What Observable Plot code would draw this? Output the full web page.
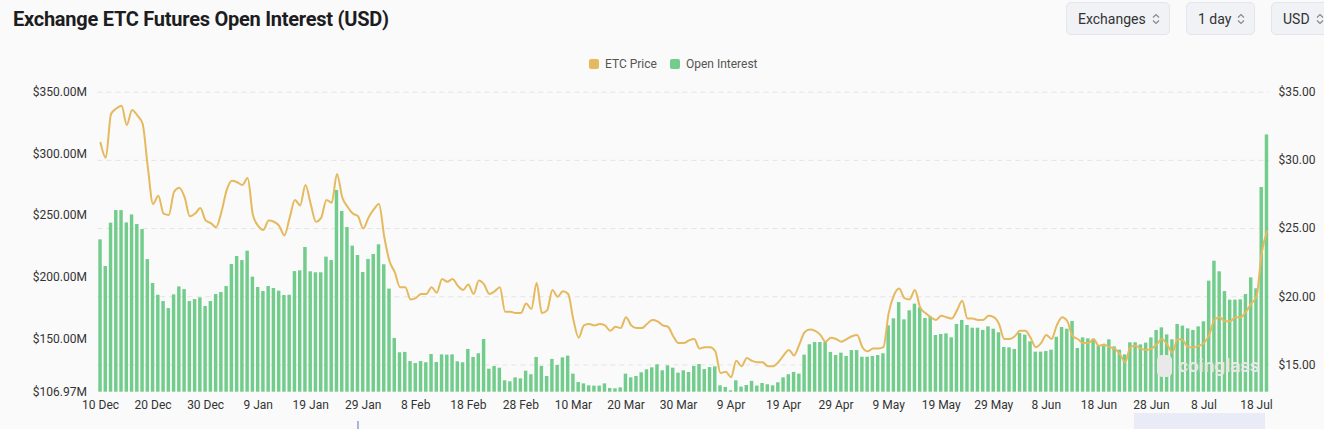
<!DOCTYPE html>
<html><head><meta charset="utf-8">
<script src="https://cdn.jsdelivr.net/npm/d3@7"></script>
<script src="https://cdn.jsdelivr.net/npm/@observablehq/plot@0.6"></script>
<style>
html,body{margin:0;padding:0;background:#fafafa;}
body{width:1324px;height:429px;position:relative;overflow:hidden;font-family:Roboto,"Noto Sans",sans-serif;}
#title{position:absolute;left:13px;top:7px;font-family:Roboto,sans-serif;font-weight:700;font-size:20px;letter-spacing:-0.25px;color:#1d1d1f;white-space:nowrap;}
.btn{position:absolute;top:2px;height:33px;box-sizing:border-box;border:1px solid #e3e5ea;background:#f0f2f5;border-radius:5px;font-size:14px;color:#333;display:flex;align-items:center;padding:0 0 0 11px;white-space:nowrap;}
.btn svg{margin-left:6px;}
#legend{position:absolute;top:57px;left:589px;display:flex;font-size:12px;color:#555;}
.li{display:flex;align-items:center;margin-right:13px;}
.sw{width:10px;height:10px;border-radius:2px;margin-right:6px;}
#chart{position:absolute;left:0;top:80px;}
#wm{position:absolute;left:1157px;top:354px;font:700 19px Roboto,sans-serif;color:#e8e8e8;display:flex;align-items:center;}
#wm .logo{width:15px;height:22px;border-radius:5px;background:#e9e9e9;margin-right:6px;}
#slider{position:absolute;left:1134px;top:413px;width:131px;height:16px;background:#e9ebf6;}
#handle{position:absolute;left:357px;top:421px;width:2px;height:8px;background:#a9b6df;}
</style></head>
<body>
<div id="title">Exchange ETC Futures Open Interest (USD)</div>
<div class="btn" style="left:1066px;width:104px">Exchanges<svg width="8" height="12" viewBox="0 0 8 12"><path d="M1 4.5L4 1.5L7 4.5M1 7.5L4 10.5L7 7.5" fill="none" stroke="#888" stroke-width="1.2"/></svg></div>
<div class="btn" style="left:1186px;width:69px">1 day<svg width="8" height="12" viewBox="0 0 8 12"><path d="M1 4.5L4 1.5L7 4.5M1 7.5L4 10.5L7 7.5" fill="none" stroke="#888" stroke-width="1.2"/></svg></div>
<div class="btn" style="left:1271px;width:70px">USD<svg width="8" height="12" viewBox="0 0 8 12"><path d="M1 4.5L4 1.5L7 4.5M1 7.5L4 10.5L7 7.5" fill="none" stroke="#888" stroke-width="1.2"/></svg></div>
<div id="legend"></div>
<div id="chart"></div>
<div id="wm"><div class="logo"></div>coinglass</div>
<div id="slider"></div>
<div id="handle"></div>
<script>
// ---- data ----
const startDate = "2024-12-10"; // first daily bar
const seriesNames = ["ETC Price", "Open Interest"];
const seriesColors = ["#e5b95e", "#72cc8c"];
// Open interest, $M, daily from 10 Dec 2024
const openInterest = [
 230.4, 208.8, 243.9, 254.1, 254.1, 244.1, 250.6, 242.8, 238.7, 214.4,
 195.0, 185.5, 180.4, 174.7, 185.8, 192.3, 190.1, 180.4, 182.0, 183.4,
 176.4, 180.4, 186.1, 187.7, 192.6, 210.4, 216.9, 213.6, 221.2, 200.2,
 191.8, 188.5, 192.6, 191.0, 188.8, 185.3, 185.5, 204.7, 205.3,
 224.2, 204.5, 203.7, 203.7, 216.4, 213.6, 270.4, 253.4, 240.4, 225.3,
 217.7, 203.9, 214.5, 218.5, 226.4, 210.2, 190.5, 150.5, 138.9, 139.2,
 131.8, 130.2, 131.8, 130.8, 137.5, 131.0, 137.2, 137.0, 137.2, 131.6,
 130.8, 141.6, 135.1, 138.1, 149.7, 125.6, 127.8, 126.4,
 116.2, 115.4, 118.6, 117.8, 124.0, 121.1, 135.1, 127.8, 119.7, 133.5,
 128.6, 134.8, 136.2, 121.6, 114.8, 113.7, 112.1, 111.9, 111.9, 113.7,
 110.0, 109.7, 110.5, 121.6, 118.6, 119.7, 122.7, 125.1, 126.7, 129.1,
 124.3, 128.3, 126.4, 122.4, 124.3, 122.9, 127.8, 129.4,
 125.3, 126.9, 127.5, 112.1, 110.8, 108.1, 116.2, 111.1, 112.4, 115.7,
 111.9, 114.0, 113.0, 112.1, 114.6, 118.6, 121.1, 123.0, 121.6, 137.0,
 145.4, 147.2, 147.2, 147.2, 139.2, 136.7, 138.6, 135.9, 140.7, 140.7,
 135.3, 135.3, 135.9, 136.7, 138.1, 160.7, 166.4, 179.6,
 165.6, 172.9, 178.3, 175.3, 166.7, 168.0, 152.9, 153.7, 154.2, 151.0,
 161.8, 165.1, 161.0, 158.8, 158.8, 157.0, 159.9, 158.0, 155.1, 143.2,
 142.9, 141.6, 154.5, 153.2, 147.8, 139.4, 139.4, 139.9, 141.0, 151.5,
 159.4, 158.0, 164.3, 142.4, 151.0, 150.2, 149.1, 144.3,
 144.5, 149.4, 143.7, 141.0, 137.2, 147.0, 147.0, 145.3, 146.7, 151.0,
 157.0, 159.1, 153.4, 149.4, 161.8, 160.5, 158.3, 157.0, 159.9, 164.0,
 196.9, 213.1, 204.5, 188.5, 181.5, 181.5, 181.8, 186.1, 199.6, 190.7,
 272.8, 315.4
];
// ETC price, USD, same days
const etcPrice = [
 31.3, 30.2, 33.4, 33.8, 34.0, 32.6, 33.7, 33.3, 32.7, 29.5,
 26.8, 27.4, 26.1, 26.0, 27.7, 28.0, 27.3, 25.9, 26.1, 26.5,
 25.6, 25.4, 25.1, 26.2, 27.8, 28.5, 28.4, 28.2, 28.7, 26.0,
 25.2, 24.9, 25.6, 25.5, 25.2, 24.5, 25.8, 27.1, 26.7, 28.2,
 26.8, 25.5, 25.8, 27.1, 26.9, 29.0, 27.3, 26.6, 26.1, 25.9,
 25.0, 25.8, 26.4, 26.8, 24.4, 22.6, 21.8, 20.7, 20.7, 19.8,
 19.9, 20.2, 20.2, 20.7, 20.3, 21.3, 21.1, 21.3, 20.8, 20.5,
 20.9, 20.2, 21.2, 20.9, 20.2, 20.4, 20.7, 18.9, 18.9, 18.8,
 18.8, 19.5, 19.1, 21.0, 18.8, 19.0, 20.5, 20.0, 20.4, 20.2,
 18.3, 17.0, 17.9, 18.0, 17.9, 18.0, 17.9, 17.5, 17.8, 17.7,
 18.5, 17.9, 17.7, 17.7, 18.0, 18.3, 18.2, 17.9, 17.8, 17.1,
 16.6, 16.6, 16.8, 16.9, 16.2, 16.3, 16.3, 16.0, 14.4, 14.5,
 14.1, 15.3, 14.9, 15.5, 15.3, 15.2, 15.2, 14.9, 14.9, 15.2,
 15.7, 16.1, 15.7, 16.5, 17.4, 17.6, 17.5, 17.2, 16.7, 17.0,
 16.9, 16.7, 16.9, 17.1, 17.2, 16.3, 16.0, 16.2, 16.2, 16.3,
 18.8, 20.1, 20.6, 19.9, 19.8, 20.5, 19.2, 18.8, 18.5, 18.3,
 18.6, 18.5, 18.4, 19.0, 19.7, 18.4, 18.4, 18.3, 18.3, 18.6,
 18.5, 18.0, 16.9, 16.9, 17.1, 17.5, 17.5, 17.0, 16.3, 16.6,
 17.2, 16.9, 17.9, 18.5, 18.2, 17.1, 16.9, 16.6, 16.6, 16.9,
 16.4, 16.5, 16.3, 16.2, 15.8, 15.2, 16.3, 16.4, 16.2, 16.1,
 16.2, 16.5, 16.9, 16.5, 15.9, 16.9, 16.8, 16.3, 16.3, 16.4,
 16.6, 17.2, 18.3, 18.5, 18.2, 18.2, 18.5, 18.5, 18.9, 19.5,
 20.0, 23.2, 24.8
];
const leftTicks = [106.97, 150, 200, 250, 300, 350];   // $M
const rightTicks = [15, 20, 25, 30, 35];                // $
const xTickDates = ["2024-12-10","2024-12-20","2024-12-30","2025-01-09","2025-01-19","2025-01-29",
  "2025-02-08","2025-02-18","2025-02-28","2025-03-10","2025-03-20","2025-03-30","2025-04-09",
  "2025-04-19","2025-04-29","2025-05-09","2025-05-19","2025-05-29","2025-06-08","2025-06-18",
  "2025-06-28","2025-07-08","2025-07-18"];
const oiDomain = [106.97, 350];
const priceDomain = [13.0, 35];

// ---- legend ----
const lg = document.getElementById("legend");
seriesNames.forEach((n, i) => {
  const d = document.createElement("div"); d.className = "li";
  d.innerHTML = `<div class="sw" style="background:${seriesColors[i]}"></div>${n}`;
  lg.appendChild(d);
});

// ---- chart ----
const DAY = 864e5;
const t0 = Date.parse(startDate + "T00:00:00Z");
const toLeft = p => oiDomain[0] + (p - priceDomain[0]) * (oiDomain[1] - oiDomain[0]) / (priceDomain[1] - priceDomain[0]);
const fromLeft = v => priceDomain[0] + (v - oiDomain[0]) * (priceDomain[1] - priceDomain[0]) / (oiDomain[1] - oiDomain[0]);
const data = openInterest.map((v, i) => ({
  d0: new Date(t0 + i * DAY), d1: new Date(t0 + (i + 1) * DAY), mid: new Date(t0 + (i + 0.5) * DAY),
  oi: v, price: etcPrice[i]
}));
const tickDates = xTickDates.map(s => new Date(Date.parse(s + "T12:00:00Z")));

const chart = Plot.plot({
  width: 1324, height: 330,
  marginTop: 11.7, marginBottom: 18.3, marginLeft: 97.4, marginRight: 54.9,
  style: {background: "transparent", fontFamily: "Roboto, sans-serif", fontSize: "12px", color: "#333", overflow: "visible"},
  x: {type: "utc", domain: [new Date(t0), new Date(t0 + openInterest.length * DAY)], label: null},
  y: {domain: oiDomain, label: null},
  marks: [
    Plot.ruleY(rightTicks.map(toLeft), {stroke: "#e4e4e4", strokeDasharray: "5,4"}),
    Plot.rectY(data, {x1: "d0", x2: "d1", y1: oiDomain[0], y2: "oi", fill: seriesColors[1], insetLeft: 0.9, insetRight: 0.9}),
    Plot.line(data, {x: "mid", y: d => toLeft(d.price), stroke: seriesColors[0], strokeWidth: 2, curve: "monotone-x"}),
    Plot.axisX(tickDates, {tickSize: 0, tickPadding: 8, tickFormat: d3.utcFormat("%-d %b"), label: null}),
    Plot.axisY(leftTicks, {anchor: "left", tickSize: 0, tickPadding: 11, tickFormat: v => "$" + v.toFixed(2) + "M", label: null}),
    Plot.axisY(rightTicks.map(toLeft), {anchor: "right", tickSize: 0, tickPadding: 9, tickFormat: v => "$" + fromLeft(v).toFixed(2), label: null})
  ]
});
document.getElementById("chart").appendChild(chart);
</script>
</body></html>
